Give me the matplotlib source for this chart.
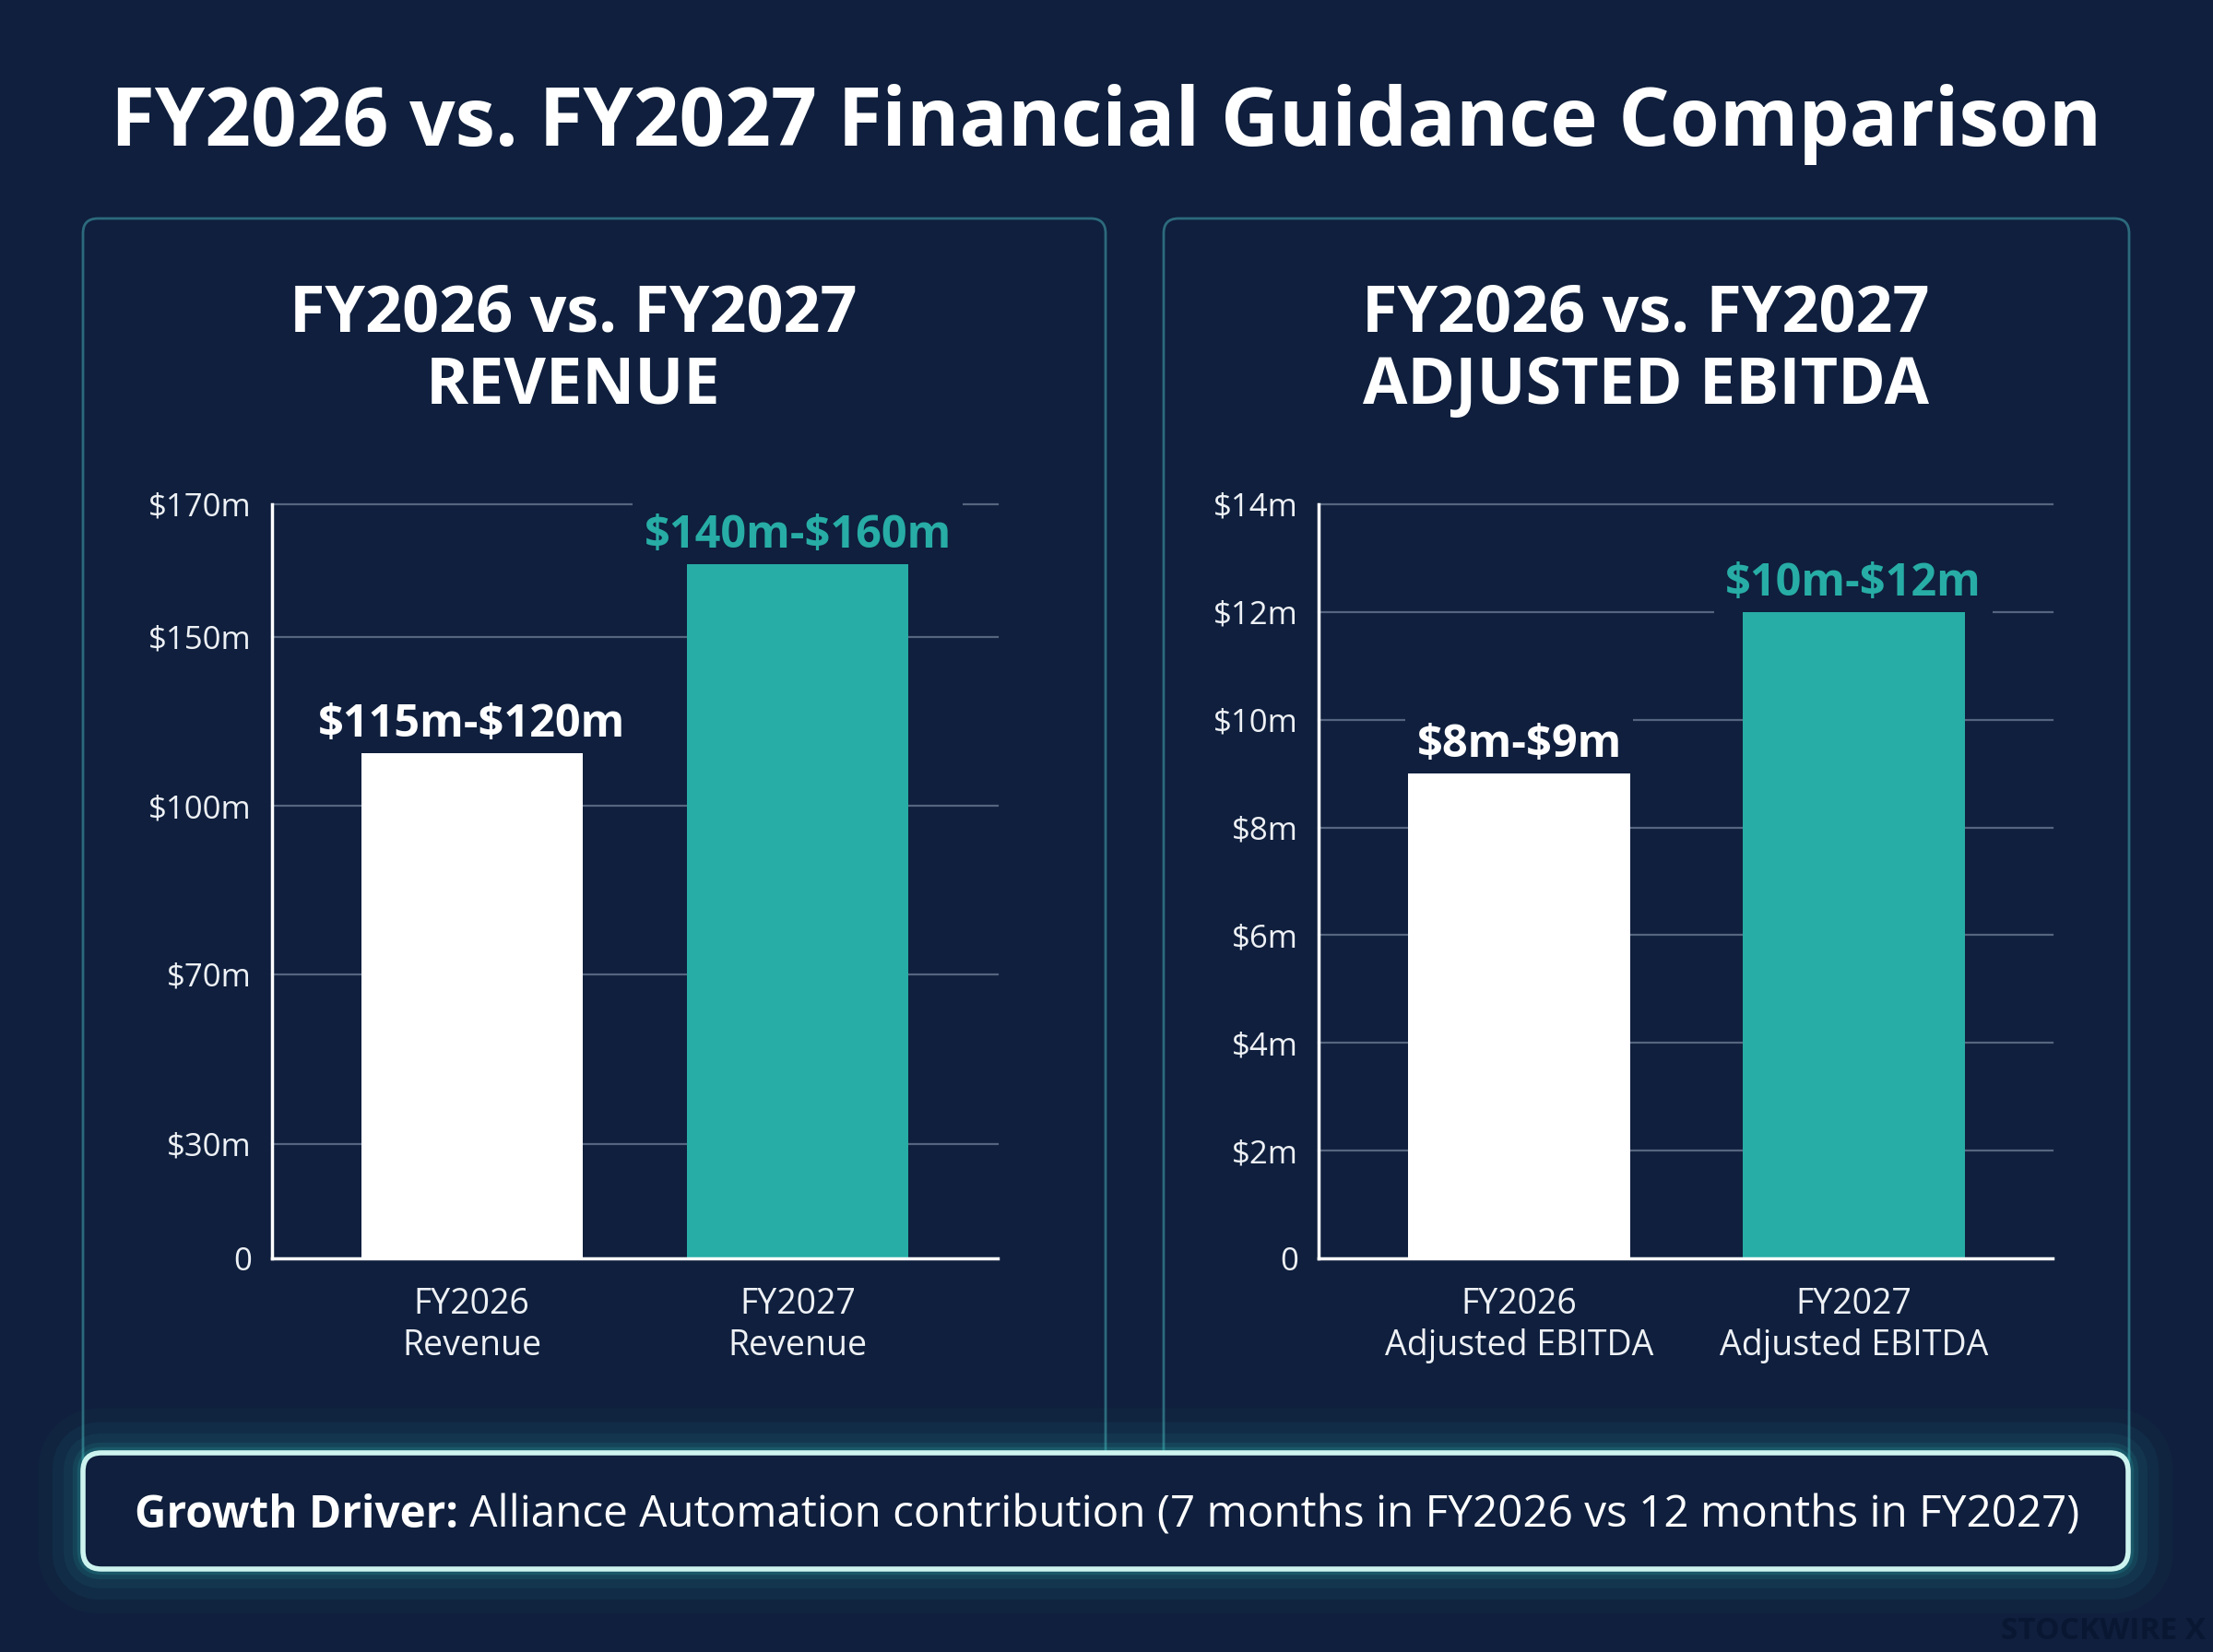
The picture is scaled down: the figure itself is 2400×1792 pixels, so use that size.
import numpy as np
import matplotlib.pyplot as plt
from matplotlib.patches import FancyBboxPatch

W, H = 2400, 1792
BG = '#0f1f3d'
TEAL = '#27ada5'
GRID = '#56657f'
PANEL_EDGE = '#2c6a7c'
FONT = ['Open Sans', 'DejaVu Sans']

# revenue panel
rev_cats = ['FY2026\nRevenue', 'FY2027\nRevenue']
rev_values = [115.5, 161]
rev_ranges = ['$115m-$120m', '$140m-$160m']
rev_ticks = [0, 30, 70, 100, 150, 170]
rev_ticklabels = ['0', '$30m', '$70m', '$100m', '$150m', '$170m']
# the revenue axis is not linear in the source: tick spacing is fixed per step
rev_tick_pos = [0, 0.152, 0.377, 0.600, 0.824, 1.0]

# adjusted EBITDA panel
ebitda_cats = ['FY2026\nAdjusted EBITDA', 'FY2027\nAdjusted EBITDA']
ebitda_values = [9, 12]
ebitda_ranges = ['$8m-$9m', '$10m-$12m']
ebitda_ticks = [0, 2, 4, 6, 8, 10, 12, 14]
ebitda_ticklabels = ['0', '$2m', '$4m', '$6m', '$8m', '$10m', '$12m', '$14m']

bar_colors = ['#ffffff', TEAL]

plt.rcParams['font.family'] = FONT

fig = plt.figure(figsize=(W / 100, H / 100), dpi=100)
fig.patch.set_facecolor(BG)

# background axes in pixel coordinates for panels and text
bg = fig.add_axes([0, 0, 1, 1], zorder=0)
bg.set_xlim(0, W)
bg.set_ylim(H, 0)
bg.axis('off')
renderer = fig.canvas.get_renderer()


def fit(t, width):
    bb = t.get_window_extent(renderer)
    t.set_fontsize(t.get_fontsize() * width / bb.width)


def panel(x0, y0, x1, y1, **kw):
    p = FancyBboxPatch((x0, y0), x1 - x0, y1 - y0,
                       boxstyle='round,pad=0,rounding_size=16', **kw)
    bg.add_patch(p)
    return p


panel(90, 237, 1199, 1600, facecolor=BG, edgecolor=PANEL_EDGE, lw=2)
panel(1262, 237, 2309, 1600, facecolor=BG, edgecolor=PANEL_EDGE, lw=2)

# main title
t = bg.text(1200, 158, 'FY2026 vs. FY2027 Financial Guidance Comparison',
            ha='center', va='baseline', color='white', fontsize=60, fontweight='bold')
fit(t, 2160)

# panel titles
for cx, lines in [(622, ['FY2026 vs. FY2027', 'REVENUE']),
                  (1785, ['FY2026 vs. FY2027', 'ADJUSTED EBITDA'])]:
    t1 = bg.text(cx, 359, lines[0], ha='center', va='baseline', color='white',
                 fontsize=45, fontweight='bold')
    fit(t1, 616)
    bg.text(cx, 438, lines[1], ha='center', va='baseline', color='white',
            fontsize=t1.get_fontsize(), fontweight='bold')


def px_axes(x0, y0, x1, y1):
    return fig.add_axes([x0 / W, 1 - y1 / H, (x1 - x0) / W, (y1 - y0) / H], zorder=2)


def style(ax, cats, ticks, ticklabels, xlim):
    ax.set_facecolor('none')
    ax.set_xlim(*xlim)
    ax.set_yticks(ticks)
    ax.set_yticklabels(ticklabels)
    ax.set_xticks(range(len(cats)))
    ax.set_xticklabels(cats, linespacing=1.25)
    ax.tick_params(axis='y', length=0, pad=16, labelsize=25, labelcolor='#eef1f5')
    ax.tick_params(axis='x', length=0, pad=22, labelsize=27, labelcolor='#eef1f5')
    for s in ['top', 'right']:
        ax.spines[s].set_visible(False)
    for s in ['left', 'bottom']:
        ax.spines[s].set_color('white')
        ax.spines[s].set_linewidth(2.5)
    ax.yaxis.grid(True, color=GRID, lw=1.6)
    ax.set_axisbelow(True)
    for line in ax.get_ygridlines():
        line.set_clip_on(False)


def bars(ax, values, ranges, width):
    x = np.arange(len(values))
    ax.bar(x, values, width=width, color=bar_colors, zorder=2)
    for xi, v, lab, c in zip(x, values, ranges, bar_colors):
        ax.annotate(lab.replace('$', r'\$'), (xi, v), xytext=(0, 13),
                    textcoords='offset points', ha='center', va='baseline',
                    color=c, fontsize=35, fontweight='bold', zorder=1.5,
                    bbox=dict(boxstyle='square,pad=0.25', fc=BG, ec='none'))


# revenue chart
ax1 = px_axes(295, 547, 1082, 1365)
ax1.set_yscale('function', functions=(lambda v: np.interp(v, rev_ticks, rev_tick_pos),
                                      lambda p: np.interp(p, rev_tick_pos, rev_ticks)))
ax1.set_ylim(0, 170)
style(ax1, rev_cats, rev_ticks, rev_ticklabels, (-0.613, 1.613))
bars(ax1, rev_values, rev_ranges, 0.68)

# EBITDA chart
ax2 = px_axes(1430, 547, 2226, 1365)
ax2.set_ylim(0, 14)
style(ax2, ebitda_cats, ebitda_ticks, ebitda_ticklabels, (-0.6, 1.595))
bars(ax2, ebitda_values, ebitda_ranges, 0.664)

# growth driver box with glow
bx0, by0, bx1, by1 = 90, 1576, 2308, 1702
for lw, a in [(70, 0.03), (48, 0.05), (30, 0.07), (16, 0.10), (9, 0.16)]:
    bg.add_patch(FancyBboxPatch((bx0, by0), bx1 - bx0, by1 - by0,
                                boxstyle='round,pad=0,rounding_size=20',
                                facecolor='none', edgecolor='#2fc4bb', lw=lw, alpha=a))
bg.add_patch(FancyBboxPatch((bx0, by0), bx1 - bx0, by1 - by0,
                            boxstyle='round,pad=0,rounding_size=20',
                            facecolor=BG, edgecolor='#cdf3ef', lw=4))

tb = bg.text(146, 1657, 'Growth Driver:', ha='left', va='baseline', color='white',
             fontsize=36, fontweight='bold')
tr = bg.text(0, 1657, ' Alliance Automation contribution (7 months in FY2026 vs 12 months in FY2027)',
             ha='left', va='baseline', color='white', fontsize=36)
wb = tb.get_window_extent(renderer).width
wr = tr.get_window_extent(renderer).width
scale = 2107 / (wb + wr)
tb.set_fontsize(36 * scale)
tr.set_fontsize(36 * scale)
tr.set_x(146 + tb.get_window_extent(renderer).width)

# watermark
bg.text(2392, 1778, 'STOCKWIRE X', ha='right', va='baseline', color='#0a1733',
        fontsize=24, fontweight='bold')

fig.savefig('out.png', dpi=100, facecolor=BG)
